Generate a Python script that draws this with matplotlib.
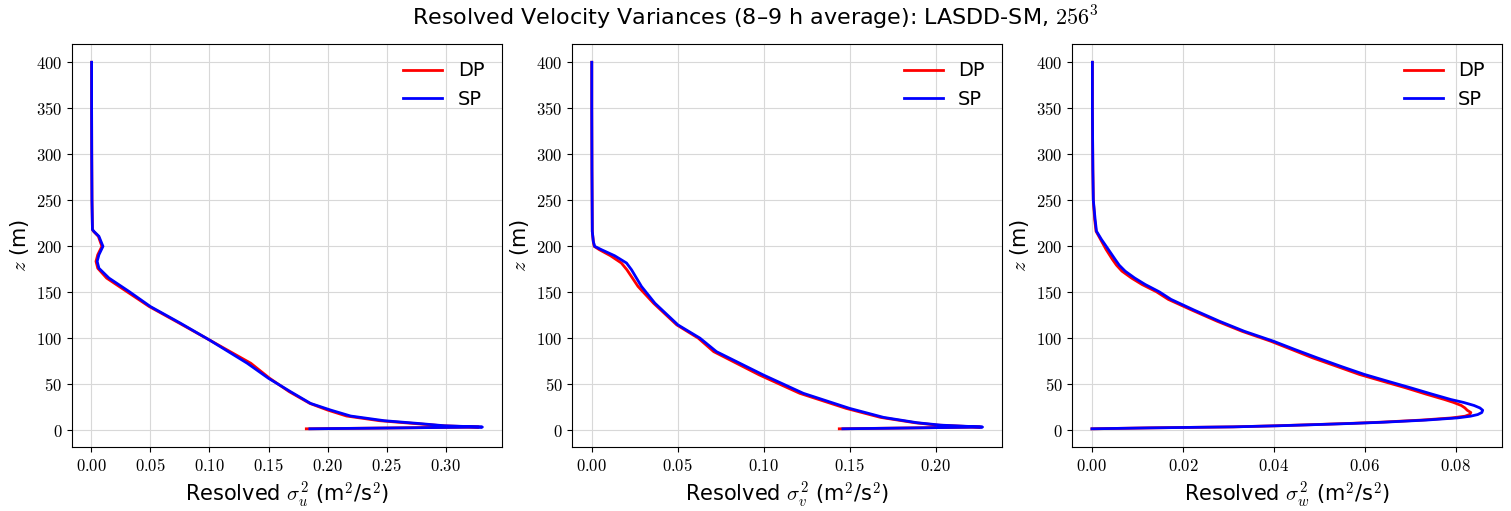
import matplotlib
matplotlib.use("Agg")
import matplotlib.pyplot as plt
from matplotlib.ticker import FuncFormatter

plt.rcParams['mathtext.fontset'] = 'cm'
plt.rcParams['font.family'] = ['DejaVu Sans']

# sigma_u^2 profiles
z_u = [1.4, 3.3, 4.7, 7.3, 10.2, 15.3, 21.8, 29, 41.8, 56.3, 72.7, 98, 116.3, 134.4,
       150.7, 165.3, 176, 183.5, 190.7, 199.8, 210.7, 216, 218, 250, 300, 350, 400]
u_sp = [0.185, 0.331, 0.299, 0.276, 0.248, 0.2195, 0.2025, 0.1856, 0.1686, 0.150, 0.132,
        0.100, 0.0754, 0.050, 0.032, 0.015, 0.0065, 0.005, 0.0065, 0.0099, 0.0065, 0.0023,
        0.001, 0.0006, 0.0004, 0.0003, 0.0003]
u_dp = [0.182, 0.328, 0.297, 0.272, 0.244, 0.216, 0.200, 0.185, 0.1675, 0.151, 0.135,
        0.100, 0.0745, 0.049, 0.030, 0.013, 0.0055, 0.004, 0.0055, 0.009, 0.006, 0.002,
        0.001, 0.0006, 0.0004, 0.0003, 0.0003]

# sigma_v^2 profiles
z_v = [1.4, 3.3, 5.4, 8, 13.8, 23.6, 40, 60, 85.3, 100, 114.4, 138, 156.2, 174.4, 181.7,
       189.6, 196.2, 199.8, 205, 216, 283, 350, 400]
v_sp = [0.1461, 0.2273, 0.2029, 0.1893, 0.1698, 0.150, 0.1231, 0.0998, 0.0726, 0.063,
        0.0502, 0.0368, 0.029, 0.0232, 0.0203, 0.0134, 0.0057, 0.0018, 0.001, 0.0004,
        0.0002, 0.0001, 0.0001]
v_dp = [0.144, 0.226, 0.201, 0.188, 0.168, 0.148, 0.121, 0.0975, 0.071, 0.062, 0.0495,
        0.036, 0.027, 0.0205, 0.0173, 0.011, 0.0045, 0.0015, 0.001, 0.0004, 0.0002,
        0.0001, 0.0001]

# sigma_w^2 profiles
z_w = [0.8, 1.8, 2.9, 4.1, 5.4, 6.7, 8, 10.3, 12.7, 14.5, 16.3, 18.5, 21, 23.5, 26.2,
       29.5, 32.7, 38.5, 45.4, 52.5, 60, 68.5, 78.1, 87, 96.2, 107, 118, 130, 141.7, 150,
       158, 165, 172.5, 179, 185.3, 196.2, 207, 216, 228.9, 250, 283, 350, 400]
w_sp = [0.0, 0.0127, 0.0311, 0.041, 0.0495, 0.0575, 0.0642, 0.0735, 0.0804, 0.0832,
        0.0848, 0.0857, 0.0859, 0.0853, 0.084, 0.0817, 0.0789, 0.0748, 0.0701, 0.0651,
        0.0599, 0.0549, 0.0495, 0.0447, 0.0399, 0.0335, 0.0280, 0.0225, 0.0174, 0.0148,
        0.0117, 0.0094, 0.0073, 0.0060, 0.0051, 0.0036, 0.0021, 0.001, 0.0007, 0.0003,
        0.0002, 0.0001, 0.0001]
w_dp = [0.0, 0.0125, 0.031, 0.0405, 0.049, 0.0568, 0.0635, 0.0725, 0.0792, 0.0820,
        0.0830, 0.0833, 0.0825, 0.0820, 0.0812, 0.0795, 0.0775, 0.0735, 0.0690, 0.0640,
        0.0588, 0.0540, 0.0485, 0.0440, 0.0393, 0.0330, 0.0275, 0.0220, 0.0168, 0.0142,
        0.0110, 0.0087, 0.0066, 0.0054, 0.0045, 0.0031, 0.0019, 0.0009, 0.0006, 0.0003,
        0.0002, 0.0001, 0.0001]

panels = [
    (z_u, u_dp, u_sp, 'u'),
    (z_v, v_dp, v_sp, 'v'),
    (z_w, w_dp, w_sp, 'w'),
]

fig, axes = plt.subplots(1, 3, figsize=(15.11, 5.11), dpi=100)
plt.subplots_adjust(left=0.0477, right=0.9942, bottom=0.125, top=0.914, wspace=0.1636)

xfmt = FuncFormatter(lambda v, p: '$%.2f$' % v)
yfmt = FuncFormatter(lambda v, p: '$%d$' % round(v))

for ax, (z, dp, sp, comp) in zip(axes, panels):
    ax.plot(dp, z, color='red', lw=2, label='DP')
    ax.plot(sp, z, color='blue', lw=2, label='SP')
    ax.grid(True, color='#d8d8d8', lw=0.8)
    ax.set_axisbelow(True)
    ax.xaxis.set_major_formatter(xfmt)
    ax.yaxis.set_major_formatter(yfmt)
    ax.tick_params(labelsize=12)
    ax.set_xlabel('Resolved $\\sigma_%s^2$ (m$^2$/s$^2$)' % comp, fontsize=15)
    ax.set_ylabel('$z$ (m)', fontsize=15)
    ax.legend(loc='upper right', frameon=False, fontsize=14)

fig.suptitle('Resolved Velocity Variances (8–9 h average): LASDD-SM, $256^3$',
             fontsize=16, y=0.965, va='center')

fig.savefig('out.png', dpi=100)
